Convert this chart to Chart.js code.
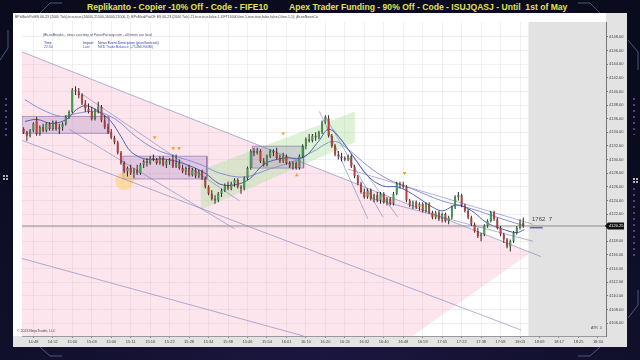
<!DOCTYPE html>
<html><head><meta charset="utf-8">
<script src="https://cdn.jsdelivr.net/npm/chart.js@4.4.0/dist/chart.umd.min.js"></script>
<style>
html,body{margin:0;padding:0;width:640px;height:360px;overflow:hidden;background:#0a0b1d;font-family:"Liberation Sans",Arial,sans-serif}
#deco{position:absolute;left:0;top:0}
#title1,#title2{position:absolute;top:2px;color:#e4e15a;font-weight:bold;font-size:8.6px;white-space:nowrap;line-height:10px}
#title1{left:87px}#title2{left:289px}
#panel{position:absolute;left:13px;top:13px;width:614px;height:334px;background:#fff}
#c{display:block}
.t{position:absolute;white-space:nowrap;font-size:3.5px;line-height:4px;color:#333}
</style></head>
<body>
<svg id="deco" width="640" height="360">
  <defs>
    <radialGradient id="g1" cx="0.5" cy="1" r="0.8"><stop offset="0" stop-color="#1b1640"/><stop offset="1" stop-color="#0a0b1d"/></radialGradient>
    <pattern id="dots" width="4" height="6" patternUnits="userSpaceOnUse"><circle cx="2" cy="3" r="1" fill="#6a4bb4"/></pattern>
  </defs>
  <rect width="640" height="360" fill="url(#g1)"/>
  <rect x="3" y="96" width="4" height="40" fill="url(#dots)"/>
  <rect x="633" y="95" width="4" height="40" fill="url(#dots)"/>
  <rect x="633" y="188" width="4" height="70" fill="url(#dots)"/>
  <g stroke="#5a6a9a" stroke-width="0.8" fill="none">
    <polyline points="62,3 50,3 40,13"/>
    <polyline points="578,3 590,3 600,13"/>
    <polyline points="40,347 50,356 62,356"/>
    <polyline points="600,347 590,356 578,356"/>
    <polyline points="0,60 8,48 8,30"/>
    <polyline points="628,40 638,52 638,70"/>
    <polyline points="628,318 638,305 638,290"/>
  </g>
  <g fill="#ffffff"><circle cx="4" cy="176" r="0.9"/><circle cx="7" cy="176" r="0.9"/><circle cx="4" cy="179" r="0.9"/><circle cx="7" cy="179" r="0.9"/>
  <circle cx="634" cy="179" r="0.9"/><circle cx="637" cy="179" r="0.9"/><circle cx="634" cy="182" r="0.9"/><circle cx="637" cy="182" r="0.9"/></g>
</svg>
<div id="title1">Replikanto - Copier -10% Off - Code - FIFE10</div>
<div id="title2">Apex Trader Funding - 90% Off - Code - ISUJQASJ - Until&nbsp; 1st of May</div>
<div id="panel"><canvas id="c" width="614" height="334"></canvas></div>
<div class="t" style="left:15px;top:15px;color:#444">BPsMarkPatES 06-23 (2000 Tick),true,true,(16000,21500,16000,21000,1); BPsMarkPatCE ES 06-23 (2000 Tick),21,true,true,false,1,LIFT16000,line,1,true,true,false,false,0,line,1,1); jEconNewsCo</div>
<div class="t" style="left:43px;top:33px;color:#4a4f70">jfEconBreaks - news courtesy of ForexFactory.com - all times are local</div>
<div class="t" style="left:44px;top:41px;color:#2b3a8c">Time</div>
<div class="t" style="left:83px;top:41px;color:#2b3a8c">Impact</div>
<div class="t" style="left:98px;top:41px;color:#2b3a8c">News Event Description (prev/forecast)</div>
<div class="t" style="left:44px;top:45px;color:#3a5ac8">22:30</div>
<div class="t" style="left:83px;top:45px;color:#3a5ac8">Low</div>
<div class="t" style="left:98px;top:45px;color:#3a5ac8">NZD Trade Balance (-714M/-900M)</div>
<div class="t" style="left:17px;top:329px;color:#444">© 2023 NinjaTrader, LLC</div>
<div class="t" style="left:591px;top:326px;color:#444">ATR&nbsp; 4</div>
<div class="t" style="left:532px;top:216px;color:#444;font-size:6px;line-height:7px">1762&nbsp; 7</div>
<script>
const timeLabels = ['14:48','14:52','15:00','15:03','15:06','15:11','15:16','15:22','15:28','15:34','15:38','15:46','15:54','16:01','16:10','16:20','16:24','16:32','16:40','16:48','16:59','17:05','17:22','17:38','17:58','18:03','18:09','18:17','18:25','18:34'];
const priceTicks = [4106,4108,4110,4112,4114,4116,4118,4120,4122,4124,4126,4128,4130,4132,4134,4136,4138,4140,4142,4144,4146,4148];

const opens = [4134.50,4134.00,4133.50,4134.25,4135.75,4133.75,4134.75,4134.25,4135.25,4134.50,
4135.50,4134.50,4134.75,4135.25,4136.25,4137.00,4140.25,4140.00,4139.50,4138.25,
4137.50,4137.00,4136.00,4137.25,4137.75,4135.75,4134.75,4134.00,4133.25,4132.50,
4131.00,4129.50,4128.25,4128.75,4128.00,4128.50,4128.00,4129.25,4129.75,4129.50,
4130.25,4130.00,4129.50,4130.25,4129.25,4129.75,4130.00,4129.00,4129.50,4128.75,
4128.25,4128.75,4127.75,4128.50,4127.50,4128.25,4127.25,4126.00,4125.00,4124.25,
4124.00,4125.00,4125.50,4126.25,4125.75,4126.50,4127.00,4126.00,4125.75,4127.25,
4128.75,4131.25,4131.00,4131.25,4129.75,4129.25,4130.50,4131.25,4131.00,4130.25,
4129.75,4130.50,4129.50,4129.00,4129.50,4128.75,4130.50,4132.00,4133.00,4132.75,
4133.50,4133.25,4134.00,4135.50,4136.00,4133.50,4132.00,4130.75,4130.50,4130.25,
4130.00,4130.50,4129.00,4127.50,4126.50,4125.25,4124.50,4125.50,4124.25,4124.75,
4124.00,4125.00,4123.75,4124.25,4123.50,4125.00,4126.50,4126.25,4126.00,4124.00,
4123.25,4123.75,4123.00,4123.50,4122.50,4123.50,4122.25,4121.50,4122.25,4121.25,
4122.00,4121.00,4121.50,4123.00,4124.50,4124.75,4123.25,4122.50,4121.50,4120.50,
4119.50,4118.75,4119.00,4120.25,4121.00,4122.25,4121.25,4120.00,4119.00,4118.25,
4117.25,4118.00,4119.25,4120.00,4120.75];
const highs = [4134.75,4134.25,4134.50,4135.50,4136.25,4135.00,4135.25,4135.50,4135.50,4135.75,
4135.75,4135.25,4135.50,4136.50,4137.25,4140.50,4140.75,4140.50,4139.75,4138.75,
4138.25,4137.75,4137.50,4138.50,4138.00,4136.50,4135.25,4134.50,4133.50,4132.75,
4131.25,4129.75,4129.00,4129.25,4128.75,4129.25,4129.50,4130.00,4130.25,4130.50,
4130.75,4130.25,4130.50,4130.50,4130.00,4130.25,4130.75,4130.75,4130.00,4129.25,
4129.00,4129.25,4128.75,4128.75,4128.50,4128.50,4127.50,4126.25,4125.50,4124.75,
4125.25,4125.75,4126.50,4126.75,4126.75,4127.25,4127.25,4126.25,4127.50,4129.00,
4131.50,4131.75,4131.75,4131.50,4130.25,4130.75,4131.50,4131.50,4131.75,4130.75,
4131.00,4130.75,4129.75,4129.75,4129.75,4130.75,4132.25,4133.25,4133.75,4133.75,
4134.00,4134.25,4135.75,4136.50,4136.50,4133.75,4132.25,4131.25,4131.00,4130.50,
4130.75,4130.75,4129.25,4127.75,4126.75,4125.75,4125.75,4125.75,4125.00,4125.25,
4125.25,4125.25,4124.50,4124.50,4125.25,4126.75,4126.75,4126.75,4126.25,4124.25,
4124.00,4124.00,4123.75,4123.75,4123.75,4123.75,4122.50,4122.50,4122.50,4122.25,
4122.25,4121.75,4123.25,4124.75,4125.25,4125.00,4123.50,4122.75,4121.75,4120.75,
4120.00,4119.25,4120.50,4121.25,4122.50,4122.50,4121.50,4120.25,4119.25,4118.50,
4118.25,4119.50,4120.25,4121.25,4121.50];
const lows = [4133.75,4132.75,4133.25,4134.00,4133.50,4133.50,4134.00,4134.00,4134.25,4134.25,
4134.25,4133.75,4134.25,4135.00,4136.00,4136.75,4139.50,4139.00,4138.00,4137.00,
4136.75,4135.75,4135.75,4136.75,4135.50,4134.50,4133.75,4133.00,4132.25,4130.75,
4129.25,4128.00,4127.50,4127.75,4127.25,4127.75,4127.75,4128.75,4129.00,4129.25,
4129.75,4129.25,4129.25,4129.00,4128.75,4129.25,4128.75,4128.75,4128.50,4128.00,
4127.75,4127.50,4127.50,4127.25,4127.25,4127.00,4125.75,4124.75,4124.00,4123.50,
4123.75,4124.50,4125.25,4125.50,4125.50,4126.00,4125.75,4125.00,4125.50,4127.00,
4128.50,4130.50,4130.75,4129.50,4129.00,4129.00,4130.25,4130.50,4130.00,4129.50,
4129.50,4129.25,4128.75,4128.50,4128.50,4128.50,4130.25,4131.50,4132.50,4132.50,
4132.75,4133.00,4133.75,4135.25,4133.25,4131.75,4130.50,4130.00,4129.75,4129.75,
4129.75,4128.75,4127.25,4126.25,4125.00,4124.25,4124.25,4124.00,4123.75,4123.75,
4123.50,4123.50,4123.25,4123.25,4123.25,4124.75,4125.75,4125.75,4123.75,4123.00,
4122.75,4122.75,4122.50,4122.25,4122.25,4122.00,4121.25,4121.25,4121.00,4120.75,
4120.75,4120.50,4121.25,4122.75,4124.00,4123.00,4122.25,4121.25,4120.25,4119.25,
4118.50,4118.00,4118.75,4120.00,4120.75,4121.00,4119.75,4118.75,4117.75,4117.00,
4116.50,4117.75,4119.00,4119.75,4120.00];
const closes = [4134.00,4133.50,4134.25,4135.25,4133.75,4134.75,4134.25,4135.25,4134.50,4135.50,
4134.50,4134.75,4135.25,4136.25,4137.00,4140.25,4140.00,4139.50,4138.25,4137.50,
4137.00,4136.00,4137.25,4137.75,4135.75,4134.75,4134.00,4133.25,4132.50,4131.00,
4129.50,4128.25,4128.75,4128.00,4128.50,4128.00,4129.25,4129.75,4129.50,4130.25,
4130.00,4129.50,4130.25,4129.25,4129.75,4130.00,4129.00,4129.50,4128.75,4128.25,
4128.75,4127.75,4128.50,4127.50,4128.25,4127.25,4126.00,4125.00,4124.25,4124.00,
4125.00,4125.50,4126.25,4125.75,4126.50,4127.00,4126.00,4125.75,4127.25,4128.75,
4131.25,4131.00,4131.25,4129.75,4129.25,4130.50,4131.25,4131.00,4130.25,4129.75,
4130.50,4129.50,4129.00,4129.50,4128.75,4130.50,4132.00,4133.00,4132.75,4133.50,
4133.25,4134.00,4135.50,4136.25,4133.50,4132.00,4130.75,4130.50,4130.25,4130.00,
4130.50,4129.00,4127.50,4126.50,4125.25,4124.50,4125.50,4124.25,4124.75,4124.00,
4125.00,4123.75,4124.25,4123.50,4125.00,4126.50,4126.25,4126.00,4124.00,4123.25,
4123.75,4123.00,4123.50,4122.50,4123.50,4122.25,4121.50,4122.25,4121.25,4122.00,
4121.00,4121.50,4123.00,4124.50,4124.75,4123.25,4122.50,4121.50,4120.50,4119.50,
4118.75,4119.00,4120.25,4121.00,4122.25,4121.25,4120.00,4119.00,4118.25,4117.25,
4118.00,4119.25,4120.00,4120.75,4120.25];

// moving-average traces: [bar, price]
const maFast = [[0.4,4135.6],[4.1,4135.9],[8.7,4135.3],[13.2,4135.9],[16.3,4137.35],[19.3,4137.9],[23,4137.1],[26.9,4135.6],[30,4133.4],[33,4131.2],[37.6,4130.06],[43.7,4130.06],[49.8,4129.33],[55.9,4128.02],[60.4,4126.42],[65,4126.27],[69.6,4127.15],[74.1,4129.33],[80.2,4130.21],[86.3,4130.35],[90.9,4132.69],[93.9,4134.44],[97,4133.42],[101.5,4130.5],[106.1,4127.58],[110.7,4126.13],[115.3,4125.98],[119.8,4124.96],[124.4,4123.5],[129,4122.48],[133.5,4123.35],[138.1,4122.48],[142.7,4120.73],[147.3,4119.85],[151.9,4119.27],[154.3,4119.71]];
const maSlow = [[0.4,4138.8],[5.6,4137.35],[11.7,4136.33],[16.3,4136.77],[22.4,4137.06],[28.4,4135.9],[34.5,4133.42],[40.6,4131.52],[46.7,4130.5],[54.3,4129.33],[60.4,4128.02],[68,4127.44],[75.7,4128.6],[83.3,4129.77],[89.4,4131.23],[95.5,4132.69],[100,4131.52],[106.1,4129.04],[112.2,4127.15],[119.8,4125.69],[129,4123.94],[138.1,4122.77],[147.3,4121.31],[154.3,4120.29]];
// drawn trend lines: [bar1, price1, bar2, price2]
const trendLines = [[-0.5,4145.81,159.4,4115.77],[-0.5,4132.83,153.3,4104.98],[-0.5,4115.48,86.3,4104.1],[14.1,4134.44,65.0,4119.85],[17.8,4139.69,66.5,4123.94],[91.2,4137.06,106.1,4121.31],[93.0,4136.33,110.7,4121.6],[95.5,4134.44,115.3,4121.6],[100,4128.6,157,4120.5],[108,4124.2,157,4118.0]];
// shaded regions [bar, price]
const pinkZone = [[-0.5,4145.81],[156.3,4116.35],[119.8,4104.1],[-0.5,4104.1]];
const greenZone = [[54.6,4128.46],[102.1,4137.06],[102.1,4132.54],[54.6,4122.62]];
const boxes = [[-0.5,26.3,4136.33,4133.85],[30.6,56.5,4130.5,4127.15],[70.5,86.3,4131.96,4128.75]];
const futureZone = [[155.6,4104.1],[155.6,4150.2],[179.5,4150.2],[179.5,4104.1]];
const markersDown = [[40.4,4133.27],[46.1,4131.67],[47.9,4131.67],[80.0,4133.85],[117.4,4128.02]];
const markersUp = [[84.2,4127.73]];
const highlight = [[31.0,4126.85]];
const volMark = [[156,4120.0],[160,4120.0]];

const lastPrice = closes[closes.length - 1];
const xy = a => a.map(p => ({x: p[0], y: p[1]}));
const UP = '#3e9e50', DN = '#c33a32';
const isUp = closes.map((c, i) => c >= opens[i]);

const datasets = [];
datasets.push({type:'line', data: xy(futureZone), fill:'shape', backgroundColor:'#e2e2e2', borderWidth:0, pointRadius:0, order:30});
datasets.push({type:'line', data: xy(pinkZone), fill:'shape', backgroundColor:'rgba(245,170,195,0.30)', borderWidth:0, pointRadius:0, order:29});
datasets.push({type:'line', data: xy(greenZone), fill:'shape', backgroundColor:'rgba(175,225,160,0.42)', borderWidth:0, pointRadius:0, order:28});
boxes.forEach((b, k) => datasets.push({type:'line', data: xy([[b[0],b[2]],[b[1],b[2]],[b[1],b[3]],[b[0],b[3]],[b[0],b[2]]]), fill:'shape', backgroundColor:'rgba(140,95,175,0.22)', borderColor:'rgba(130,90,170,0.55)', borderWidth:1, pointRadius:0, tension:0, order:25 - k}));
datasets.push({type:'scatter', data: xy(highlight), pointRadius:9, backgroundColor:'rgba(255,205,90,0.5)', borderWidth:0, order:20});
trendLines.forEach(t => datasets.push({type:'line', data: xy([[t[0],t[1]],[t[2],t[3]]]), borderColor:'rgba(120,128,190,0.75)', borderWidth:0.8, pointRadius:0, fill:false, order:15}));
datasets.push({type:'line', data: xy(maSlow), borderColor:'#8592d6', borderWidth:1, pointRadius:0, tension:0.35, fill:false, order:12});
datasets.push({type:'line', data: xy(maFast), borderColor:'#4f5fb8', borderWidth:1, pointRadius:0, tension:0.35, fill:false, order:11});
datasets.push({type:'line', data: [{x:-0.5, y:lastPrice},{x:179.5, y:lastPrice}], borderColor:'#8c8c8c', borderWidth:1, pointRadius:0, fill:false, order:10});
datasets.push({type:'line', data: xy(volMark), borderColor:'#7a5cc4', borderWidth:1.5, pointRadius:0, fill:false, order:9});
datasets.push({type:'bar', data: lows.map((l, i) => ({x:i, y:[l, highs[i]]})), backgroundColor:'#2a2a2a', borderWidth:0, maxBarThickness:1, grouped:false, order:3});
datasets.push({type:'bar', data: opens.map((o, i) => ({x:i, y:[o, closes[i]]})),
  backgroundColor: isUp.map(u => u ? UP : DN), borderColor: isUp.map(u => u ? '#1f5f2c' : '#7a1c17'),
  borderWidth:0.5, borderSkipped:false, maxBarThickness:2.6, grouped:false, order:2});
datasets.push({type:'scatter', data: xy(markersDown), pointStyle:'triangle', rotation:180, pointRadius:2.2, backgroundColor:'#f0a530', borderWidth:0, order:1});
datasets.push({type:'scatter', data: xy(markersUp), pointStyle:'triangle', rotation:0, pointRadius:2.2, backgroundColor:'#f0a530', borderWidth:0, order:1});

const bgPlugin = {
  id:'bgPlugin',
  beforeDraw(chart){
    const {ctx, chartArea:a, width, height} = chart;
    ctx.save();
    ctx.fillStyle = '#ffffff'; ctx.fillRect(0, 0, width, height);
    ctx.fillStyle = '#e3e3e3';
    ctx.fillRect(a.right, 0, width - a.right, height);
    ctx.fillRect(0, a.bottom, width, height - a.bottom);
    ctx.restore();
  },
  afterDraw(chart){
    const {ctx, chartArea:a} = chart;
    const y = chart.scales.y.getPixelForValue(lastPrice);
    ctx.save();
    ctx.fillStyle = '#111';
    ctx.beginPath();
    ctx.moveTo(a.right - 1, y);
    ctx.lineTo(a.right + 2, y - 3.5);
    ctx.lineTo(a.right + 18, y - 3.5);
    ctx.lineTo(a.right + 18, y + 3.5);
    ctx.lineTo(a.right + 2, y + 3.5);
    ctx.closePath();
    ctx.fill();
    ctx.fillStyle = '#fff';
    ctx.font = '4px "Liberation Sans", Arial, sans-serif';
    ctx.textBaseline = 'middle';
    ctx.fillText(lastPrice.toFixed(2), a.right + 3, y + 0.3);
    ctx.restore();
  }
};

new Chart(document.getElementById('c'), {
  type:'bar',
  data:{datasets},
  options:{
    responsive:false, animation:false, events:[],
    layout:{padding:{left:2, top:7, right:0, bottom:0}},
    plugins:{legend:{display:false}, tooltip:{enabled:false}, title:{display:false}},
    scales:{
      x:{type:'linear', min:-0.5, max:179.5, offset:false, position:'bottom',
         grid:{offset:false, color:'rgba(0,0,0,0.06)', tickColor:'#888', tickLength:2, lineWidth:1},
         border:{color:'#9a9a9a'},
         afterBuildTicks: s => { s.ticks = timeLabels.map((t, k) => ({value: 3 + 6 * k})); },
         ticks:{autoSkip:false, maxRotation:0, padding:1, color:'#444', font:{size:4, family:'"Liberation Sans", Arial, sans-serif'},
                callback: (v) => timeLabels[Math.round((v - 3) / 6)]},
         afterFit: s => { s.height = 11; }},
      y:{type:'linear', position:'right', min:4104.1, max:4150.2, beginAtZero:false,
         grid:{color:'rgba(0,0,0,0.06)', tickColor:'#777', tickLength:2},
         border:{color:'#777'},
         afterBuildTicks: s => { s.ticks = priceTicks.map(v => ({value:v})); },
         ticks:{padding:1, color:'#444', font:{size:4, family:'"Liberation Sans", Arial, sans-serif'}, callback: v => Number(v).toFixed(2)},
         afterFit: s => { s.width = 21; }}
    }
  },
  plugins:[bgPlugin]
});
</script>
</body></html>
